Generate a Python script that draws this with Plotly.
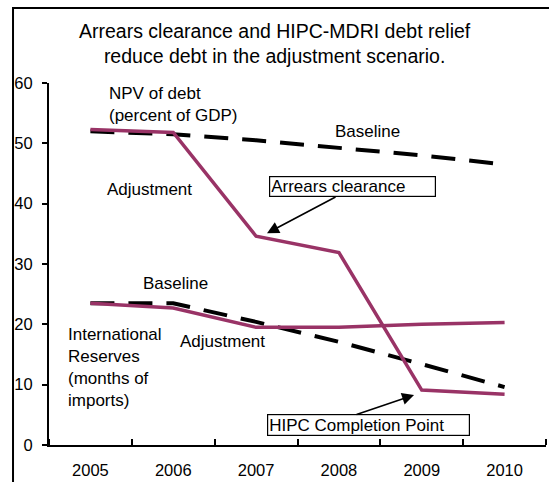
import plotly.graph_objects as go

# Series: NPV of debt (percent of GDP) and international reserves (months of imports)
years = ["2005", "2006", "2007", "2008", "2009", "2010"]
debt_baseline = [52.0, 51.5, 50.5, 49.3, 48.0, 46.5]
debt_adjustment = [52.3, 51.8, 34.6, 31.9, 9.1, 8.4]
reserves_baseline = [23.5, 23.5, 20.4, 17.1, 13.4, 9.6]
reserves_adjustment = [23.5, 22.7, 19.5, 19.5, 20.0, 20.3]
y_ticks = [0, 10, 20, 30, 40, 50, 60]

x_idx = list(range(len(years)))
FONT = "Arial, Liberation Sans, sans-serif"
PLUM = "#993366"

fig = go.Figure()

for vals in (debt_baseline, reserves_baseline):
    fig.add_trace(go.Scatter(
        x=x_idx, y=vals, mode="lines",
        line=dict(color="black", width=4, dash="24px,14px"),
        hoverinfo="skip", showlegend=False,
    ))
for vals in (debt_adjustment, reserves_adjustment):
    fig.add_trace(go.Scatter(
        x=x_idx, y=vals, mode="lines",
        line=dict(color=PLUM, width=3.5),
        hoverinfo="skip", showlegend=False,
    ))

annotations = [
    # title
    dict(text="Arrears clearance and HIPC-MDRI debt relief<br>reduce debt in the adjustment scenario.",
         xref="paper", yref="paper", x=0.455, y=1.108, xanchor="center", yanchor="middle",
         showarrow=False, font=dict(size=19.5, family=FONT, color="black")),
    dict(text="NPV of debt<br>(percent of GDP)", x=0.2, y=56.5, xanchor="left", yanchor="middle",
         align="left", showarrow=False),
    dict(text="Baseline", x=3.34, y=51.9, xanchor="center", yanchor="middle", showarrow=False),
    dict(text="Adjustment", x=0.17, y=42.4, xanchor="left", yanchor="middle", showarrow=False),
    dict(text="Baseline", x=1.033, y=26.7, xanchor="center", yanchor="middle", showarrow=False),
    dict(text="International<br>Reserves<br>(months of<br>imports)", x=-0.29, y=12.9,
         xanchor="left", yanchor="middle", align="left", showarrow=False),
    dict(text="Adjustment", x=1.595, y=17.2, xanchor="center", yanchor="middle", showarrow=False),
    # boxed callouts
    dict(text="Arrears clearance", x=3.16, y=42.77, xanchor="center", yanchor="middle",
         align="left", width=163, height=17, bordercolor="black", borderwidth=1.2,
         borderpad=1, showarrow=False),
    dict(text="HIPC Completion Point", x=3.36, y=3.3, xanchor="center", yanchor="middle",
         align="left", width=199, height=18, bordercolor="black", borderwidth=1.2,
         borderpad=1, showarrow=False),
    # arrows
    dict(text="", x=2.132, y=35.1, ax=70, ay=-37, showarrow=True, arrowhead=2,
         arrowsize=1.5, arrowwidth=1.6, arrowcolor="black", standoff=0),
    dict(text="", x=3.907, y=8.3, ax=-59, ay=20, showarrow=True, arrowhead=2,
         arrowsize=1.5, arrowwidth=1.6, arrowcolor="black", standoff=0),
]
for a in annotations:
    a.setdefault("font", dict(size=17, family=FONT, color="black"))

fig.update_layout(
    width=549, height=482,
    margin=dict(l=49, r=3, t=83, b=37),
    paper_bgcolor="white", plot_bgcolor="white",
    font=dict(family=FONT, color="black"),
    annotations=annotations,
    shapes=[dict(type="rect", xref="paper", yref="paper",
                 x0=-0.0724, x1=1.2, y0=-0.3, y1=1.207,
                 line=dict(color="black", width=2), layer="below")],
    xaxis=dict(
        range=[-0.5, 5.5], tickmode="array", tickvals=x_idx, ticktext=years,
        ticks="", showgrid=False, zeroline=False,
        showline=True, linecolor="black", linewidth=2,
        tickfont=dict(size=16.5, family=FONT, color="black"),
        ticklabelstandoff=9,
        minor=dict(tickmode="array", tickvals=[i - 0.5 for i in range(len(years) + 1)],
                   ticks="inside", ticklen=6, tickwidth=1.5, tickcolor="black", showgrid=False),
    ),
    yaxis=dict(
        range=[0, 60], tickmode="array", tickvals=y_ticks,
        ticks="outside", ticklen=5, tickwidth=1.5, tickcolor="black",
        showgrid=False, zeroline=False,
        showline=True, linecolor="black", linewidth=2,
        tickfont=dict(size=16.5, family=FONT, color="black"),
        ticklabelstandoff=6,
    ),
)

fig.write_html("out.html")
